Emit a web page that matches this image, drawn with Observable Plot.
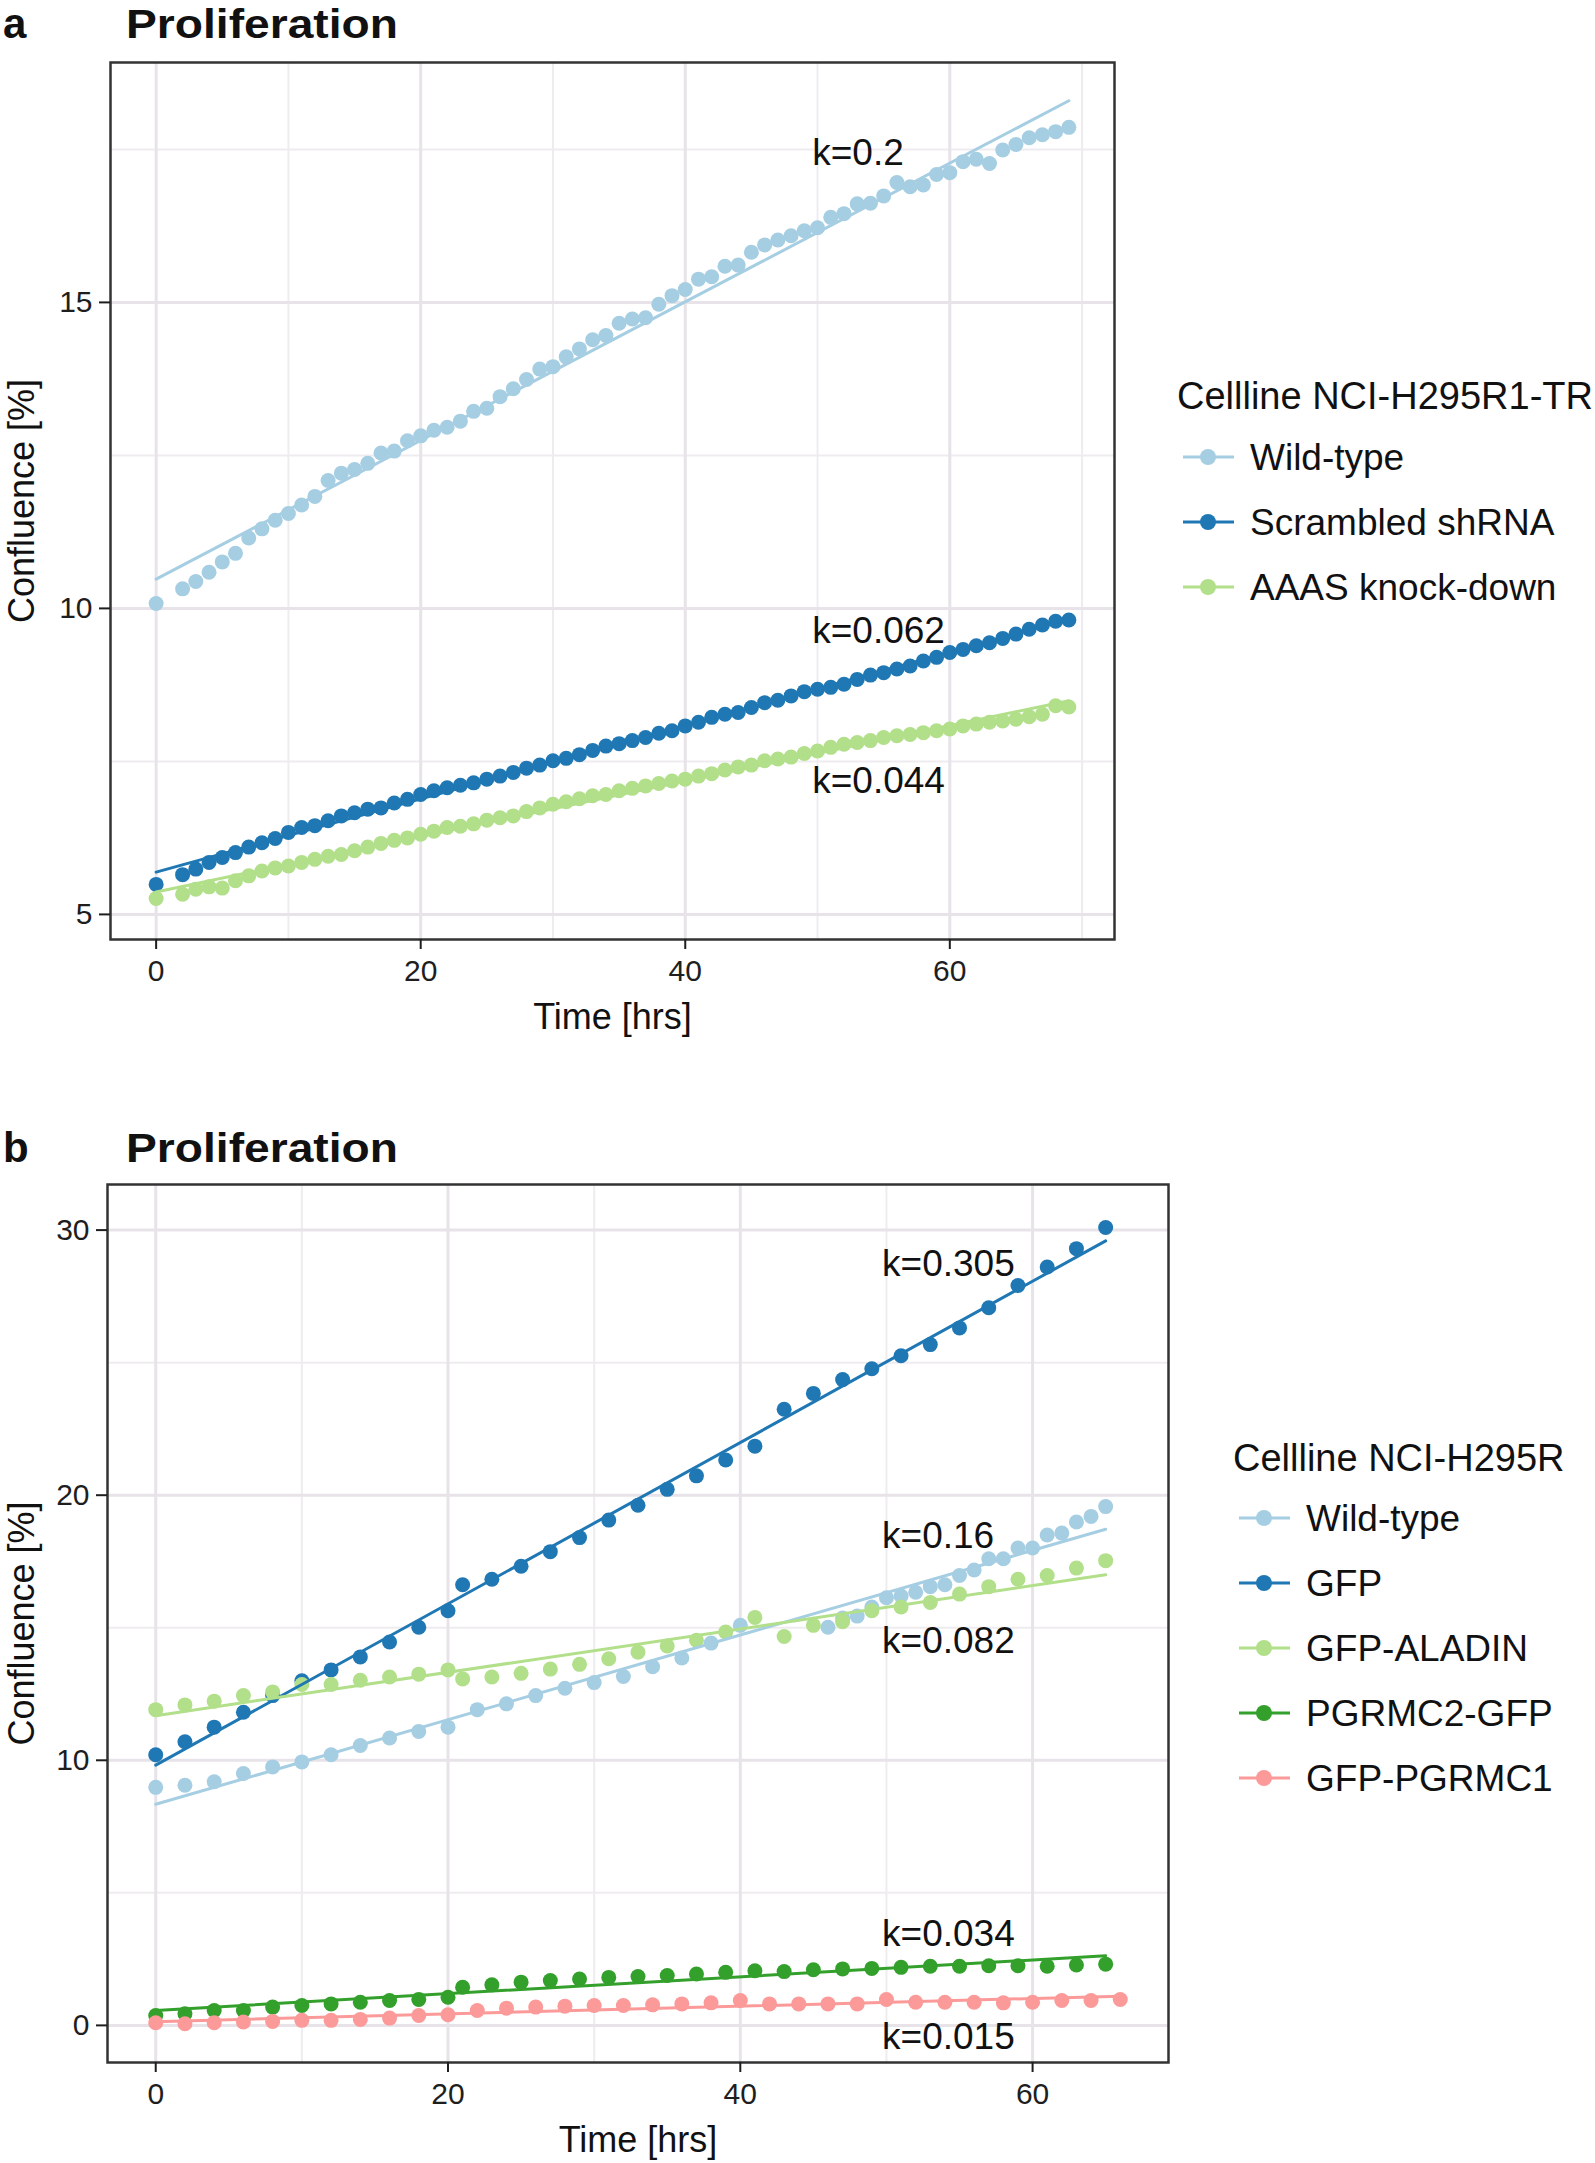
<!DOCTYPE html>
<html><head><meta charset="utf-8">
<script src="https://cdn.jsdelivr.net/npm/d3@7"></script>
<script src="https://cdn.jsdelivr.net/npm/@observablehq/plot@0.6"></script>
<style>
html,body{margin:0;padding:0;background:#fff;}
#root{position:relative;width:1595px;height:2163px;overflow:hidden;background:#fff;}
#root svg{position:absolute;left:0;}
</style></head><body><div id="root"></div>
<script>
// ---------- Panel a data (Cellline NCI-H295R1-TR) ----------
const seriesA = ["Wild-type", "Scrambled shRNA", "AAAS knock-down"];
const colorsA = ["#A6CEE3", "#1F78B4", "#B2DF8A"];
const timeA = [0,2,3,4,5,6,7,8,9,10,11,12,13,14,15,16,17,18,19,20,21,22,23,24,25,26,27,28,29,30,31,32,33,34,35,36,37,38,39,40,41,42,43,44,45,46,47,48,49,50,51,52,53,54,55,56,57,58,59,60,61,62,63,64,65,66,67,68,69];
const wildTypeA = [10.08,10.32,10.44,10.59,10.76,10.90,11.15,11.30,11.44,11.55,11.69,11.83,12.09,12.21,12.27,12.37,12.54,12.57,12.74,12.82,12.91,12.96,13.06,13.22,13.27,13.46,13.59,13.74,13.91,13.95,14.11,14.24,14.39,14.46,14.66,14.73,14.75,14.97,15.11,15.21,15.38,15.42,15.59,15.61,15.82,15.94,16.02,16.09,16.17,16.22,16.39,16.45,16.61,16.62,16.74,16.96,16.89,16.92,17.09,17.12,17.30,17.34,17.27,17.49,17.58,17.69,17.74,17.79,17.86];
const scrambledA = [5.49,5.65,5.74,5.85,5.93,6.01,6.10,6.17,6.24,6.34,6.42,6.45,6.53,6.61,6.66,6.72,6.74,6.82,6.88,6.96,7.02,7.07,7.11,7.15,7.21,7.26,7.32,7.39,7.44,7.51,7.55,7.61,7.68,7.75,7.79,7.84,7.89,7.96,8.00,8.08,8.14,8.22,8.27,8.30,8.38,8.46,8.50,8.57,8.64,8.68,8.71,8.76,8.84,8.91,8.95,9.01,9.06,9.14,9.20,9.28,9.33,9.39,9.44,9.51,9.58,9.66,9.73,9.79,9.81];
const aaasA = [5.26,5.33,5.41,5.45,5.43,5.55,5.63,5.71,5.76,5.79,5.85,5.90,5.95,5.98,6.04,6.10,6.16,6.21,6.25,6.31,6.36,6.42,6.44,6.48,6.54,6.58,6.61,6.68,6.74,6.80,6.84,6.89,6.94,6.96,7.02,7.06,7.10,7.14,7.18,7.21,7.26,7.30,7.36,7.41,7.44,7.51,7.54,7.57,7.63,7.67,7.73,7.78,7.81,7.84,7.89,7.92,7.94,7.97,8.00,8.03,8.08,8.11,8.14,8.16,8.19,8.23,8.27,8.41,8.39];
const kLabelsA = [
  {text: "k=0.2", x: 49.6, y: 17.24},
  {text: "k=0.062", x: 49.6, y: 9.44},
  {text: "k=0.044", x: 49.6, y: 6.98}
];
const xMajorA = [0, 20, 40, 60], xMinorA = [10, 30, 50, 70];
const yMajorA = [5, 10, 15], yMinorA = [7.5, 12.5, 17.5];

// ---------- Panel b data (Cellline NCI-H295R) ----------
const seriesB = ["Wild-type", "GFP", "GFP-ALADIN", "PGRMC2-GFP", "GFP-PGRMC1"];
const colorsB = ["#A6CEE3", "#1F78B4", "#B2DF8A", "#33A02C", "#FB9A99"];
const timeWildTypeB = [0,2,4,6,8,10,12,14,16,18,20,22,24,26,28,30,32,34,36,38,40,46,47,48,49,50,51,52,53,54,55,56,57,58,59,60,61,62,63,64,65];
const wildTypeB = [8.98,9.06,9.19,9.50,9.75,9.94,10.21,10.56,10.84,11.09,11.25,11.91,12.13,12.44,12.72,12.93,13.16,13.53,13.86,14.42,15.09,15.02,15.37,15.44,15.78,16.13,16.20,16.34,16.55,16.62,16.97,17.18,17.60,17.60,18.01,18.01,18.50,18.57,18.99,19.20,19.57];
const timeB = [0,2,4,6,8,10,12,14,16,18,20,21,23,25,27,29,31,33,35,37,39,41,43,45,47,49,51,53,55,57,59,61,63,65];
const gfpB = [10.21,10.70,11.25,11.81,12.44,13.00,13.41,13.90,14.46,15.02,15.64,16.62,16.83,17.32,17.87,18.40,19.06,19.62,20.22,20.73,21.33,21.85,23.24,23.84,24.36,24.77,25.26,25.68,26.31,27.07,27.91,28.61,29.30,30.10];
const aladinB = [11.91,12.09,12.23,12.44,12.58,12.86,12.86,13.02,13.14,13.25,13.41,13.07,13.14,13.28,13.44,13.62,13.83,14.08,14.31,14.53,14.84,15.39,14.67,15.09,15.23,15.64,15.78,15.95,16.27,16.55,16.83,16.97,17.25,17.53];
const pgrmc2B = [0.375,0.44,0.56,0.56,0.69,0.75,0.81,0.875,0.94,0.98,1.06,1.44,1.53,1.63,1.69,1.75,1.81,1.84,1.88,1.94,2.00,2.06,2.03,2.10,2.13,2.15,2.19,2.23,2.23,2.25,2.25,2.23,2.28,2.31];
const timePgrmc1B = [0,2,4,6,8,10,12,14,16,18,20,22,24,26,28,30,32,34,36,38,40,42,44,46,48,50,52,54,56,58,60,62,64,66];
const pgrmc1B = [0.10,0.06,0.10,0.13,0.15,0.19,0.19,0.225,0.275,0.375,0.40,0.56,0.65,0.69,0.725,0.75,0.75,0.775,0.81,0.85,0.94,0.81,0.81,0.81,0.81,0.975,0.875,0.875,0.875,0.85,0.875,0.94,0.94,0.975];
const kLabelsB = [
  {text: "k=0.305", x: 49.7, y: 28.25},
  {text: "k=0.16", x: 49.7, y: 18.02},
  {text: "k=0.082", x: 49.7, y: 14.06},
  {text: "k=0.034", x: 49.7, y: 3.0},
  {text: "k=0.015", x: 49.7, y: -0.88}
];
const xMajorB = [0, 20, 40, 60], xMinorB = [10, 30, 50];
const yMajorB = [0, 10, 20, 30], yMinorB = [5, 15, 25];

// ---------- build ----------
const FONT = '"Liberation Sans", Arial, Helvetica, sans-serif';
function rows(series, times, values) {
  return times.map((t, i) => ({series, time: t, value: values[i]}));
}
const dataA = [
  ...rows(seriesA[0], timeA, wildTypeA),
  ...rows(seriesA[1], timeA, scrambledA),
  ...rows(seriesA[2], timeA, aaasA)
];
const dataB = [
  ...rows(seriesB[0], timeWildTypeB, wildTypeB),
  ...rows(seriesB[1], timeB, gfpB),
  ...rows(seriesB[2], timeB, aladinB),
  ...rows(seriesB[3], timeB, pgrmc2B),
  ...rows(seriesB[4], timePgrmc1B, pgrmc1B)
];

function panel(o) {
  return Plot.plot({
    width: 1595, height: o.height,
    marginLeft: o.ml, marginRight: o.mr, marginTop: o.mt, marginBottom: o.mb,
    x: {domain: o.xDomain},
    y: {domain: o.yDomain},
    color: {domain: o.series, range: o.colors},
    style: {fontFamily: FONT, fontSize: "30px", color: "#1e1e1e", background: "transparent"},
    marks: [
      Plot.gridX({ticks: o.xMinor, stroke: "#EFECF0", strokeOpacity: 1, strokeWidth: 2}),
      Plot.gridY({ticks: o.yMinor, stroke: "#EFECF0", strokeOpacity: 1, strokeWidth: 2}),
      Plot.gridX({ticks: o.xMajor, stroke: "#E7E3E9", strokeOpacity: 1, strokeWidth: 3}),
      Plot.gridY({ticks: o.yMajor, stroke: "#E7E3E9", strokeOpacity: 1, strokeWidth: 3}),
      Plot.dot(o.data, {x: "time", y: "value", fill: "series", r: 7.5}),
      Plot.linearRegressionY(o.data, {x: "time", y: "value", stroke: "series", ci: 0, strokeWidth: 3}),
      Plot.text(o.kLabels, {x: "x", y: "y", text: "text", textAnchor: "start", lineAnchor: "bottom", fontSize: 37, fill: "#111"}),
      Plot.frame({stroke: "#333", strokeWidth: 2.5}),
      Plot.axisX({ticks: o.xMajor, tickSize: 10, tickPadding: 10, label: null, fontSize: 30, strokeWidth: 2}),
      Plot.axisY({ticks: o.yMajor, tickSize: 11, tickPadding: 7, label: null, fontSize: 30, strokeWidth: 2}),
      Plot.text(["Time [hrs]"], {text: d => d, frameAnchor: "bottom", dy: 89, lineAnchor: "bottom", textAnchor: "middle", fontSize: 36, fill: "#111"}),
      Plot.text(["Confluence [%]"], {text: d => d, frameAnchor: "left", dx: 22 - o.ml, rotate: -90, textAnchor: "middle", lineAnchor: "middle", fontSize: 36, fill: "#111"})
    ]
  });
}

const root = document.getElementById("root");
const svgA = panel({
  height: 1060, ml: 110, mr: 481, mt: 62, mb: 121,
  xDomain: [-3.45, 72.45], yDomain: [4.59, 18.92],
  series: seriesA, colors: colorsA, data: dataA, kLabels: kLabelsA,
  xMajor: xMajorA, xMinor: xMinorA, yMajor: yMajorA, yMinor: yMinorA
});
svgA.style.top = "0px";
root.appendChild(svgA);

const svgB = panel({
  height: 1063, ml: 107, mr: 427, mt: 84, mb: 101,
  xDomain: [-3.3, 69.3], yDomain: [-1.4, 31.72],
  series: seriesB, colors: colorsB, data: dataB, kLabels: kLabelsB,
  xMajor: xMajorB, xMinor: xMinorB, yMajor: yMajorB, yMinor: yMinorB
});
svgB.style.top = "1100px";
root.appendChild(svgB);

// ---------- titles and legends ----------
const ov = d3.select(root).append("svg")
  .attr("width", 1595).attr("height", 2163)
  .style("top", "0px").style("pointer-events", "none")
  .style("font-family", FONT);

function title(letter, y) {
  ov.append("text").attr("x", 3).attr("y", y).attr("font-size", 42).attr("font-weight", "bold").attr("fill", "#111").text(letter);
  ov.append("text").attr("x", 126).attr("y", y).attr("font-size", 41).attr("font-weight", "bold").attr("fill", "#111")
    .attr("textLength", 272).attr("lengthAdjust", "spacingAndGlyphs").text("Proliferation");
}
title("a", 38);
title("b", 1162);

function legend(titleText, names, colors, x0, titleY, firstKeyY) {
  ov.append("text").attr("x", x0).attr("y", titleY).attr("font-size", 38).attr("fill", "#111").text(titleText);
  names.forEach((n, i) => {
    const cy = firstKeyY + 65 * i;
    ov.append("line").attr("x1", x0 + 6).attr("x2", x0 + 57).attr("y1", cy).attr("y2", cy)
      .attr("stroke", colors[i]).attr("stroke-width", 3);
    ov.append("circle").attr("cx", x0 + 31).attr("cy", cy).attr("r", 8).attr("fill", colors[i]);
    ov.append("text").attr("x", x0 + 73).attr("y", cy + 13).attr("font-size", 37).attr("fill", "#111").text(n);
  });
}
legend("Cellline NCI-H295R1-TR", seriesA, colorsA, 1177, 409, 457);
legend("Cellline NCI-H295R", seriesB, colorsB, 1233, 1471, 1518);
</script></body></html>
